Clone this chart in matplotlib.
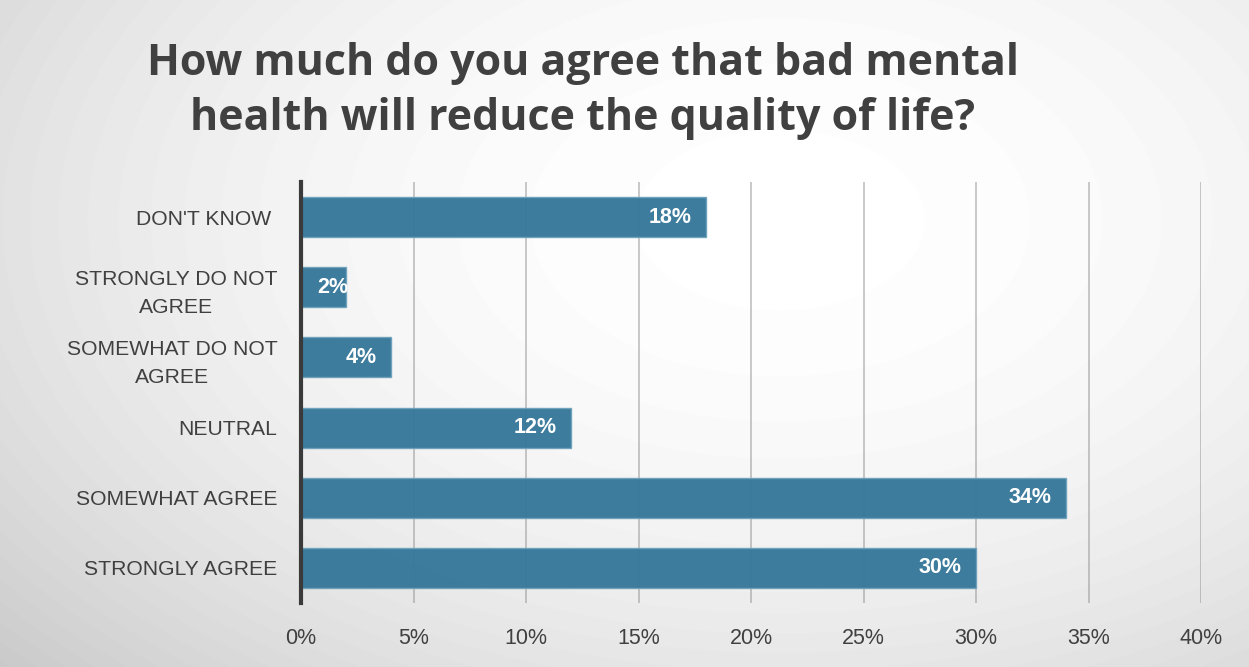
import numpy as np
import matplotlib
matplotlib.use('Agg')
from matplotlib import pyplot as plt
from matplotlib.ticker import FuncFormatter

categories = [
    'STRONGLY AGREE', 'SOMEWHAT AGREE', 'NEUTRAL',
    'SOMEWHAT DO NOT\nAGREE', 'STRONGLY DO NOT\nAGREE', "DON'T KNOW ",
]
shares = [30, 34, 12, 4, 2, 18]
xticks = [0, 5, 10, 15, 20, 25, 30, 35, 40]

TITLE = ('How much do you agree that bad mental\n'
         'health will reduce the quality of life?')
BAR = '#37789a'
TEXT = '#404040'

fig = plt.figure(figsize=(12.49, 6.67), dpi=100)

# radial gradient background
bg = fig.add_axes([0, 0, 1, 1], zorder=-10)
yy, xx = np.mgrid[0:667, 0:1249]
r2 = ((xx - 780) / 800.0) ** 2 + ((yy - 220) / 500.0) ** 2
shade = np.clip(1.0 - 0.12 * r2, 0.77, 1.0)
bg.imshow(shade, cmap='gray', vmin=0, vmax=1, aspect='auto',
          extent=[0, 1, 0, 1], origin='upper')
bg.set_axis_off()

ax = fig.add_axes([301 / 1249, 64 / 667, 900 / 1249, 421 / 667])
ax.set_facecolor('none')
y = np.arange(len(categories))
bars = ax.barh(y, shares, height=0.57, color=BAR, edgecolor='#6fa3bb',
               linewidth=1, alpha=0.97, zorder=3)

for bar, yi, v in zip(bars, y, shares):
    if v - 0.65 - 1.4 < 0.7:
        # too short: start the label just right of the axis, clip at bar end
        t = ax.text(0.7, yi, f'{v}%', ha='left', va='center', color='white',
                    fontsize=15.5, fontweight='bold',
                    family='Liberation Sans', zorder=4)
        t.set_clip_path(bar)
    else:
        ax.text(v - 0.65, yi, f'{v}%', ha='right', va='center',
                color='white', fontsize=15.5, fontweight='bold',
                family='Liberation Sans', zorder=4)

ax.set_xlim(0, 40)
ax.set_ylim(-0.5, 5.5)
ax.set_xticks(xticks)
ax.xaxis.set_major_formatter(FuncFormatter(lambda v, _: f'{v:.0f}%'))
ax.set_yticks(y)
ax.set_yticklabels(categories, multialignment='center', linespacing=1.55)
ax.grid(axis='x', color='#8c8c8c', linewidth=1.2, alpha=0.55, zorder=0)
ax.tick_params(axis='x', length=0, pad=18, labelsize=15.5, labelcolor=TEXT)
ax.tick_params(axis='y', length=0, pad=17, labelsize=15.2, labelcolor=TEXT)
for lab in ax.get_xticklabels() + ax.get_yticklabels():
    lab.set_family('Liberation Sans')

for side in ('top', 'right', 'bottom'):
    ax.spines[side].set_visible(False)
ax.spines['left'].set_color('#3a3a3a')
ax.spines['left'].set_linewidth(3)
ax.spines['left'].set_zorder(5)

fig.text(583 / 1249, 1 - 91 / 667, TITLE, ha='center', va='center',
         fontsize=31, fontweight='bold', color=TEXT, family='Open Sans',
         linespacing=1.38)

fig.savefig('out.png', dpi=100)
